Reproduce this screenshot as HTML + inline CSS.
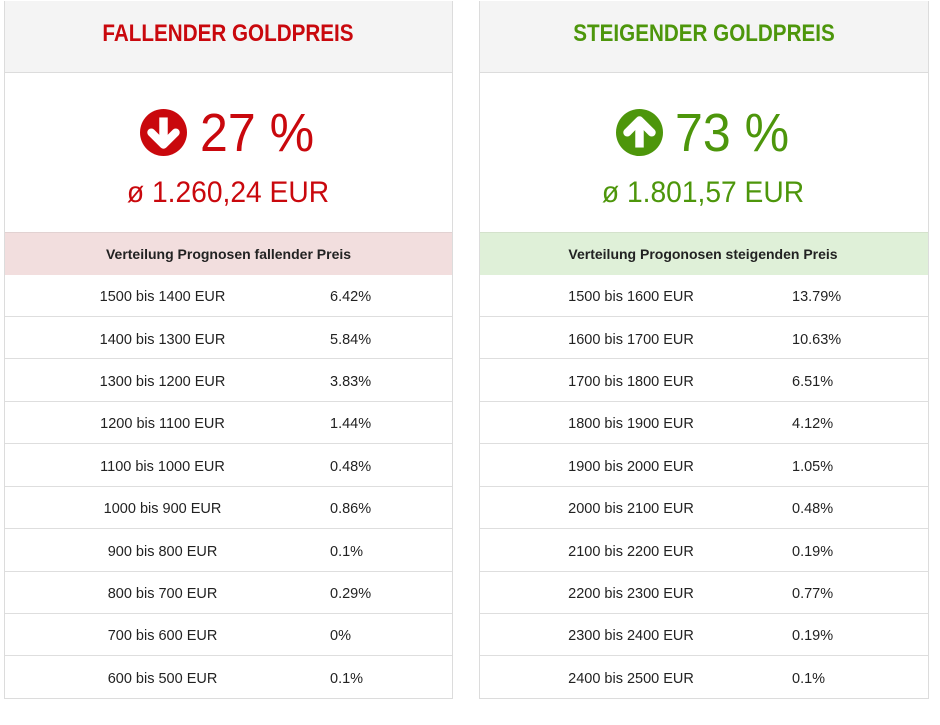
<!DOCTYPE html>
<html><head><meta charset="utf-8">
<style>
html,body{margin:0;padding:0;background:#fff;width:940px;height:725px;overflow:hidden;position:relative;font-family:"Liberation Sans",sans-serif;}
.p{position:absolute;top:1px;height:698px;border:1px solid #dcdcdc;box-sizing:border-box;background:#fff;}
.hd{position:absolute;top:1px;height:71px;background:#f4f4f4;border-bottom:1px solid #dcdcdc;}
.sb{position:absolute;top:232px;height:42px;border-top:1px solid #e2d2d2;}
.ln{position:absolute;height:1px;background:#dedede;}
.t{position:absolute;white-space:nowrap;line-height:1;}
.c{transform-origin:center;}
.l{transform-origin:left;}
.red{color:#c9080d;}
.grn{color:#4d960b;}
.r{font-size:14.5px;color:#222;}
</style></head><body>

<!-- panels -->
<div class="p" style="left:4px;width:449px;"></div>
<div class="p" style="left:479px;width:450px;"></div>

<div class="hd" style="left:5px;width:447px;"></div>
<div class="hd" style="left:480px;width:448px;"></div>

<div class="sb" style="left:5px;width:447px;background:#f2dede;"></div>
<div class="sb" style="left:480px;width:448px;background:#dff0d8;border-top-color:#d4e2cc;"></div>

<!-- headers -->
<div class="t red c" style="left:228px;top:21.7px;font-size:24px;font-weight:bold;transform:translateX(-50%) scaleX(0.86);">FALLENDER GOLDPREIS</div>
<div class="t grn c" style="left:703.5px;top:21.7px;font-size:24px;font-weight:bold;transform:translateX(-50%) scaleX(0.86);">STEIGENDER GOLDPREIS</div>

<!-- icons -->
<svg style="position:absolute;left:140px;top:109px;" width="47" height="47" viewBox="0 0 100 100">
<circle cx="50" cy="50" r="50" fill="#c9080d"/>
<rect x="41" y="18" width="18" height="46" fill="#fff"/>
<polyline points="24,50 50,76 76,50" fill="none" stroke="#fff" stroke-width="17" stroke-linecap="round" stroke-linejoin="round"/>
</svg>
<svg style="position:absolute;left:616px;top:109px;" width="47" height="47" viewBox="0 0 100 100">
<circle cx="50" cy="50" r="50" fill="#4d960b"/>
<rect x="41" y="36" width="18" height="46" fill="#fff"/>
<polyline points="24,50 50,24 76,50" fill="none" stroke="#fff" stroke-width="17" stroke-linecap="round" stroke-linejoin="round"/>
</svg>

<!-- big numbers -->
<div class="t red l" style="left:200px;top:106.3px;font-size:54px;transform:scaleX(0.927);">27 %</div>
<div class="t grn l" style="left:675px;top:106.3px;font-size:54px;transform:scaleX(0.927);">73 %</div>

<div class="t red c" style="left:228px;top:177.6px;font-size:30px;transform:translateX(-50%) scaleX(0.94);">ø 1.260,24 EUR</div>
<div class="t grn c" style="left:703px;top:177.6px;font-size:30px;transform:translateX(-50%) scaleX(0.94);">ø 1.801,57 EUR</div>

<!-- subheaders -->
<div class="t c" style="left:228.5px;top:247px;font-size:14px;font-weight:bold;color:#222;transform:translateX(-50%);">Verteilung Prognosen fallender Preis</div>
<div class="t c" style="left:703px;top:247px;font-size:14px;font-weight:bold;color:#222;transform:translateX(-50%);">Verteilung Progonosen steigenden Preis</div>

<!-- row separators -->
<div class="ln" style="left:5px;width:447px;top:316px;"></div>
<div class="ln" style="left:5px;width:447px;top:358px;"></div>
<div class="ln" style="left:5px;width:447px;top:401px;"></div>
<div class="ln" style="left:5px;width:447px;top:443px;"></div>
<div class="ln" style="left:5px;width:447px;top:486px;"></div>
<div class="ln" style="left:5px;width:447px;top:528px;"></div>
<div class="ln" style="left:5px;width:447px;top:571px;"></div>
<div class="ln" style="left:5px;width:447px;top:613px;"></div>
<div class="ln" style="left:5px;width:447px;top:655px;"></div>

<div class="ln" style="left:480px;width:448px;top:316px;"></div>
<div class="ln" style="left:480px;width:448px;top:358px;"></div>
<div class="ln" style="left:480px;width:448px;top:401px;"></div>
<div class="ln" style="left:480px;width:448px;top:443px;"></div>
<div class="ln" style="left:480px;width:448px;top:486px;"></div>
<div class="ln" style="left:480px;width:448px;top:528px;"></div>
<div class="ln" style="left:480px;width:448px;top:571px;"></div>
<div class="ln" style="left:480px;width:448px;top:613px;"></div>
<div class="ln" style="left:480px;width:448px;top:655px;"></div>

<!-- left rows -->
<div class="t r c" style="left:162.5px;top:290.2px;transform:translateX(-50%);">1500 bis 1400 EUR</div>
<div class="t r" style="left:330px;top:290.2px;">6.42%</div>
<div class="t r c" style="left:162.5px;top:332.6px;transform:translateX(-50%);">1400 bis 1300 EUR</div>
<div class="t r" style="left:330px;top:332.6px;">5.84%</div>
<div class="t r c" style="left:162.5px;top:375px;transform:translateX(-50%);">1300 bis 1200 EUR</div>
<div class="t r" style="left:330px;top:375px;">3.83%</div>
<div class="t r c" style="left:162.5px;top:417.4px;transform:translateX(-50%);">1200 bis 1100 EUR</div>
<div class="t r" style="left:330px;top:417.4px;">1.44%</div>
<div class="t r c" style="left:162.5px;top:459.8px;transform:translateX(-50%);">1100 bis 1000 EUR</div>
<div class="t r" style="left:330px;top:459.8px;">0.48%</div>
<div class="t r c" style="left:162.5px;top:502.2px;transform:translateX(-50%);">1000 bis 900 EUR</div>
<div class="t r" style="left:330px;top:502.2px;">0.86%</div>
<div class="t r c" style="left:162.5px;top:544.6px;transform:translateX(-50%);">900 bis 800 EUR</div>
<div class="t r" style="left:330px;top:544.6px;">0.1%</div>
<div class="t r c" style="left:162.5px;top:587px;transform:translateX(-50%);">800 bis 700 EUR</div>
<div class="t r" style="left:330px;top:587px;">0.29%</div>
<div class="t r c" style="left:162.5px;top:629.4px;transform:translateX(-50%);">700 bis 600 EUR</div>
<div class="t r" style="left:330px;top:629.4px;">0%</div>
<div class="t r c" style="left:162.5px;top:671.8px;transform:translateX(-50%);">600 bis 500 EUR</div>
<div class="t r" style="left:330px;top:671.8px;">0.1%</div>

<!-- right rows -->
<div class="t r c" style="left:631px;top:290.2px;transform:translateX(-50%);">1500 bis 1600 EUR</div>
<div class="t r" style="left:792px;top:290.2px;">13.79%</div>
<div class="t r c" style="left:631px;top:332.6px;transform:translateX(-50%);">1600 bis 1700 EUR</div>
<div class="t r" style="left:792px;top:332.6px;">10.63%</div>
<div class="t r c" style="left:631px;top:375px;transform:translateX(-50%);">1700 bis 1800 EUR</div>
<div class="t r" style="left:792px;top:375px;">6.51%</div>
<div class="t r c" style="left:631px;top:417.4px;transform:translateX(-50%);">1800 bis 1900 EUR</div>
<div class="t r" style="left:792px;top:417.4px;">4.12%</div>
<div class="t r c" style="left:631px;top:459.8px;transform:translateX(-50%);">1900 bis 2000 EUR</div>
<div class="t r" style="left:792px;top:459.8px;">1.05%</div>
<div class="t r c" style="left:631px;top:502.2px;transform:translateX(-50%);">2000 bis 2100 EUR</div>
<div class="t r" style="left:792px;top:502.2px;">0.48%</div>
<div class="t r c" style="left:631px;top:544.6px;transform:translateX(-50%);">2100 bis 2200 EUR</div>
<div class="t r" style="left:792px;top:544.6px;">0.19%</div>
<div class="t r c" style="left:631px;top:587px;transform:translateX(-50%);">2200 bis 2300 EUR</div>
<div class="t r" style="left:792px;top:587px;">0.77%</div>
<div class="t r c" style="left:631px;top:629.4px;transform:translateX(-50%);">2300 bis 2400 EUR</div>
<div class="t r" style="left:792px;top:629.4px;">0.19%</div>
<div class="t r c" style="left:631px;top:671.8px;transform:translateX(-50%);">2400 bis 2500 EUR</div>
<div class="t r" style="left:792px;top:671.8px;">0.1%</div>

</body></html>
